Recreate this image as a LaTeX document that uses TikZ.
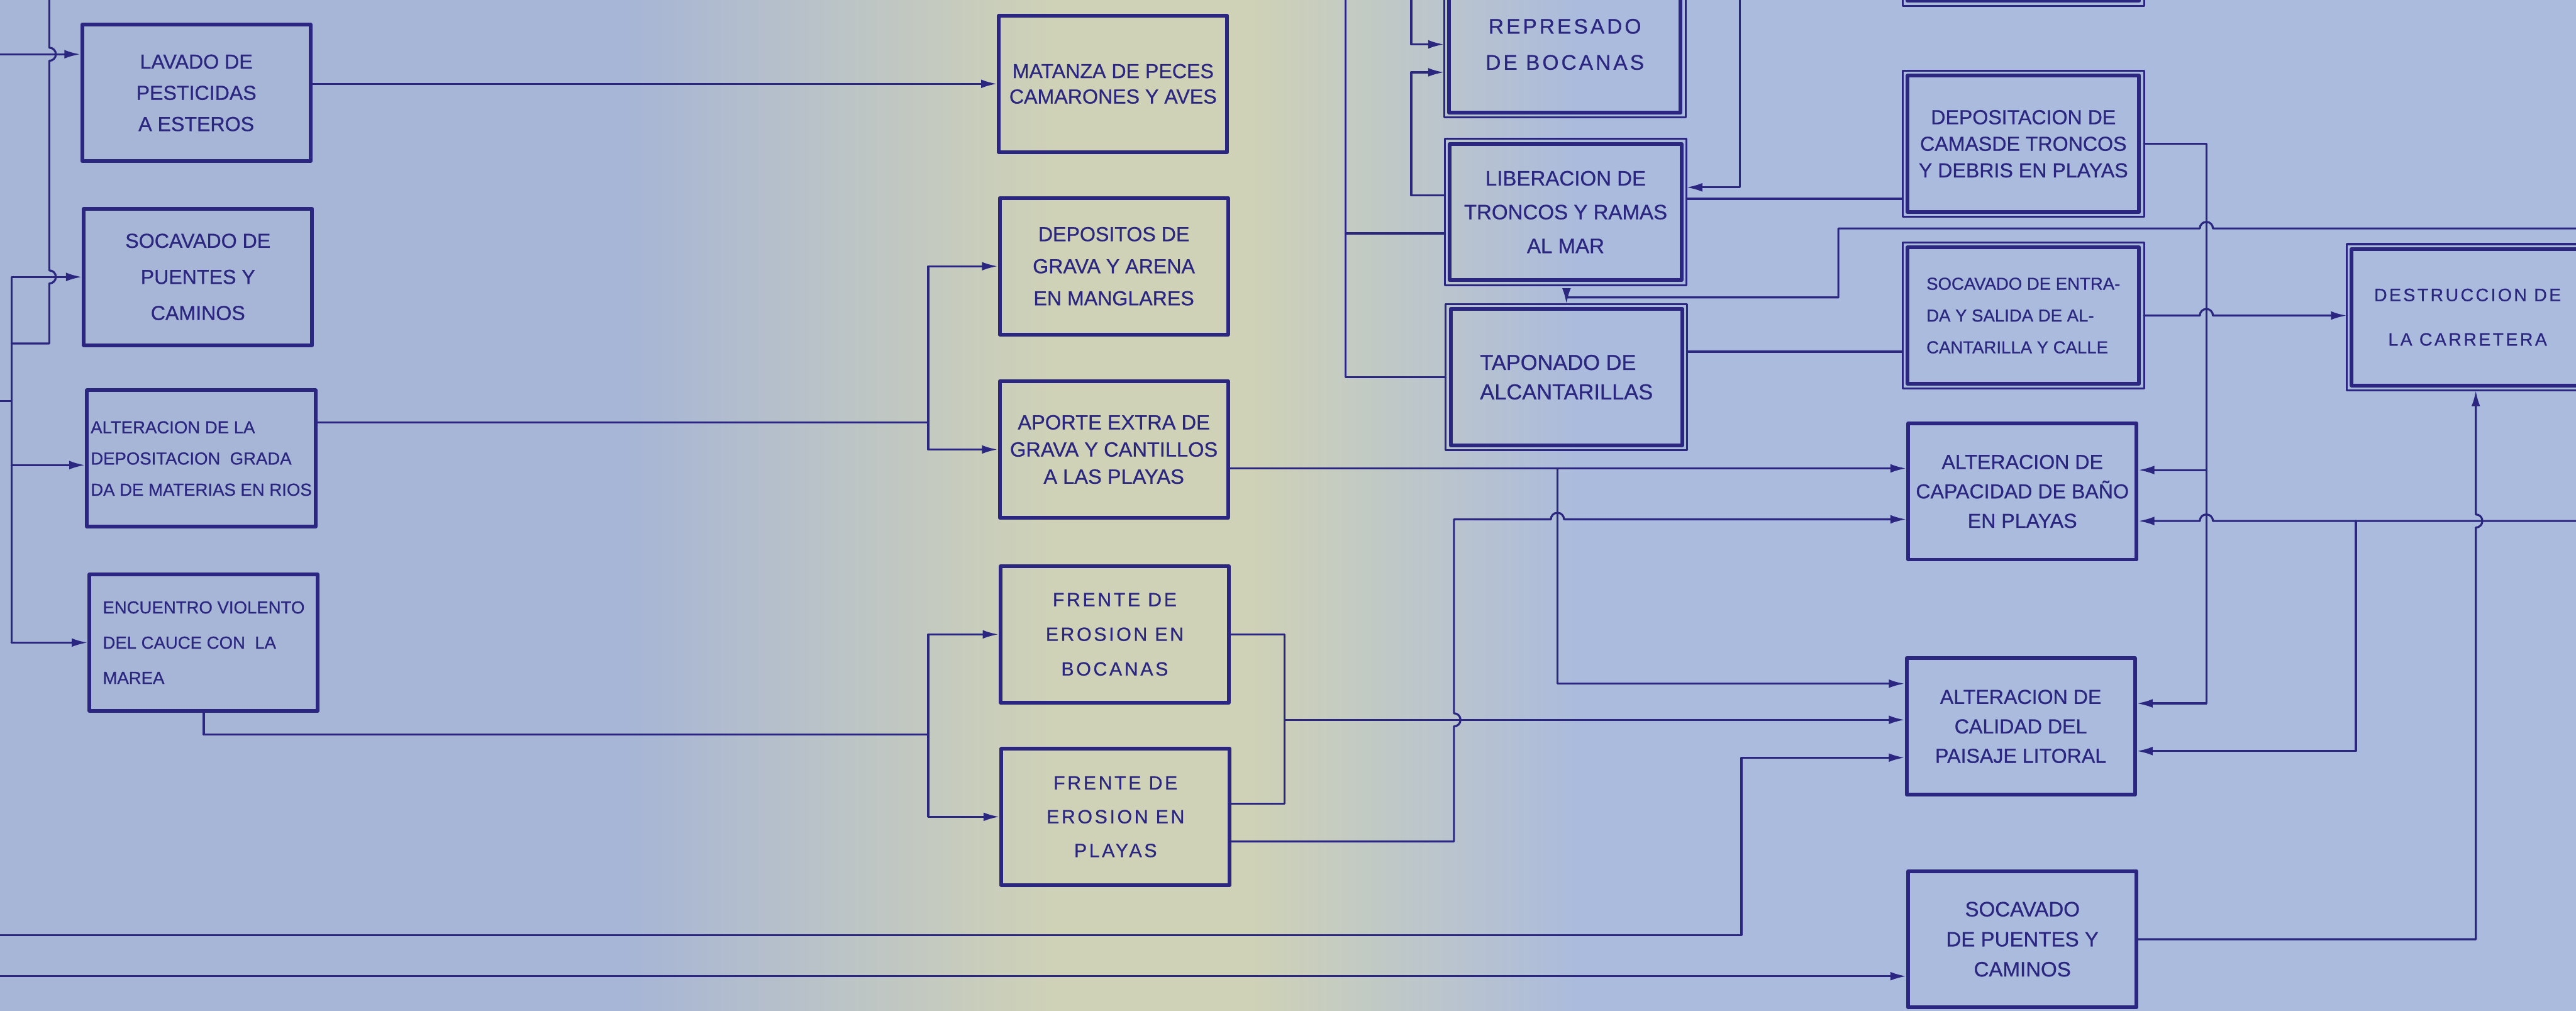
\documentclass[tikz,border=0pt]{standalone}
\usepackage{fontspec}
\newfontfamily\letra[FakeBold=.7]{Liberation Sans}
\newfontfamily\letraancha[LetterSpace=12,FakeBold=.7]{Liberation Sans}
\usetikzlibrary{arrows.meta}

\begin{document}
\begin{tikzpicture}[x=.2mm,y=-.2mm,line join=round,line cap=round,
    letra/.style 2 args={font=\letra\fontsize{#1}{#2}\selectfont},
    ancha/.style 2 args={font=\letraancha\fontsize{#1}{#2}\selectfont},
    caja/.style={draw=tinta,line width=1.3pt,minimum width=2.78cm,minimum height=1.66cm,
      inner sep=0pt,align=center,text=tinta,letra={7}{10.8}},
    cajadoble/.style={caja,minimum width=2.82cm,outer sep=.6mm},
    linea/.style={draw=tinta,line width=.7pt},
    flecha/.style={linea,-{Latex[length=5.5pt,width=3pt]}}]
  \definecolor{fondoAzul}{HTML}{A7B5D6}
  \definecolor{fondoClaro}{HTML}{ABBBDD}
  \definecolor{fondoAmarillo}{HTML}{CFD2B6}
  \definecolor{tinta}{HTML}{2B2680}
  \useasboundingbox (0,0) rectangle (1568,615);
  \clip (0,0) rectangle (1568,615);

  % Papel: azul a los lados, amarillento en el pliegue central.
  \fill[fondoAzul] (0,0) rectangle (381,615);
  \shade[left color=fondoAzul,right color=fondoAmarillo] (380,0) rectangle (641,615);
  \fill[fondoAmarillo] (640,0) rectangle (761,615);
  \shade[left color=fondoAmarillo,right color=fondoClaro] (760,0) rectangle (961,615);
  \fill[fondoClaro] (960,0) rectangle (1568,615);

  % Primera columna.
  \node[caja] (lavado) at (119.5,56.5) {LAVADO DE\\PESTICIDAS\\A ESTEROS};
  \node[caja,letra={7}{12.5}] (socavado) at (120.5,168.5) {SOCAVADO DE\\PUENTES Y\\CAMINOS};
  \node[caja,letra={6}{10.8},align=left] (alteracion) at (122.5,279)
    {ALTERACION DE LA\\DEPOSITACION\ \ GRADA\\DA DE MATERIAS EN RIOS};
  \node[caja,letra={6}{12.2},align=left] (encuentro) at (124,391)
    {ENCUENTRO VIOLENTO\\DEL CAUCE CON\ \ LA\\MAREA};

  % Segunda columna.
  \node[caja,letra={7}{8.8}] (matanza) at (677.5,51) {MATANZA DE PECES\\CAMARONES Y AVES};
  \node[caja,letra={7}{11.1}] (depositos) at (678,162) {DEPOSITOS DE\\GRAVA Y ARENA\\EN MANGLARES};
  \node[caja,letra={7.1}{9.4}] (aporte) at (678,273.5) {APORTE EXTRA DE\\GRAVA Y CANTILLOS\\A LAS PLAYAS};
  \node[caja,ancha={6.6}{12}] (frenteboc) at (678.5,386) {FRENTE DE\\EROSION EN\\BOCANAS};
  \node[caja,ancha={6.6}{11.7}] (frentepla) at (679,497) {FRENTE DE\\EROSION EN\\PLAYAS};

  % Tercera columna, cajas dobles.
  \node[cajadoble,ancha={7.3}{12.5}] (represado) at (952.5,27) {REPRESADO\\DE BOCANAS};
  \node[cajadoble,letra={7.2}{11.7}] (liberacion) at (953,129) {LIBERACION DE\\TRONCOS Y RAMAS\\AL MAR};
  \node[cajadoble,letra={7.5}{10.2},align=left] (taponado) at (953.5,229.5) {TAPONADO DE\\ALCANTARILLAS};

  % Cuarta columna.
  \node[cajadoble] (cortada) at (1231.6,-41) {};
  \node[cajadoble,letra={7}{9.2}] (depositacion) at (1231.6,87.5)
    {DEPOSITACION DE\\CAMASDE TRONCOS\\Y DEBRIS EN PLAYAS};
  \node[cajadoble,letra={6}{11},align=left] (socaventrada) at (1231.6,192)
    {SOCAVADO DE ENTRA-\\DA Y SALIDA DE AL-\\CANTARILLA Y CALLE};
  \node[caja,letra={7}{10.2}] (bano) at (1231,299) {ALTERACION DE\\CAPACIDAD DE BAÑO\\EN PLAYAS};
  \node[caja,letra={7}{10.2}] (calidad) at (1230,442) {ALTERACION DE\\CALIDAD DEL\\PAISAJE LITORAL};
  \node[caja,letra={7.2}{10.4}] (socavado2) at (1231,571.5) {SOCAVADO\\DE PUENTES Y\\CAMINOS};
  \node[cajadoble,ancha={6.2}{15.4}] (destruccion) at (1502,193) {DESTRUCCION DE\\LA CARRETERA};

  \foreach \nombre in {represado,liberacion,taponado,cortada,depositacion,socaventrada,destruccion}
    \draw[linea] (\nombre.north west) rectangle (\nombre.south east);

  % Extremos sueltos en los bordes del papel.
  \coordinate (izqA) at (0,33);
  \coordinate (izqB) at (0,244);
  \coordinate (izqC) at (0,569);
  \coordinate (izqD) at (0,594);
  \coordinate (arribaA) at (30,0);
  \coordinate (arribaB) at (819,0);
  \coordinate (arribaC) at (859,0);
  \coordinate (arribaD) at (1059,0);
  \coordinate (derA) at (1568,139);
  \coordinate (derB) at (1568,317);

  % Entradas de la primera columna.
  \draw[flecha] (izqA) -- (lavado.west |- izqA);
  \draw[linea] (arribaA) -- (30,29) arc[start angle=-90,end angle=90,radius=4]
    -- (30,164.5) arc[start angle=-90,end angle=90,radius=4] -- (30,209) -- (7,209);
  \draw[flecha] (encuentro.west -| 7,0) |- (socavado.west);
  \draw[flecha] (encuentro.west -| 7,0) -- (encuentro.west);
  \draw[linea] (izqB) -- (7,244);
  \draw[flecha] (7,283) -- (alteracion.west |- 0,283);

  % Hacia la segunda columna.
  \draw[flecha] (lavado.east |- matanza.west) -- (matanza.west);
  \draw[linea] (alteracion.east |- 0,257) -- (565,257);
  \draw[flecha] (565,257) |- (depositos.west);
  \draw[flecha] (565,257) |- (aporte.west);
  \draw[linea] (encuentro.south) |- (565,447);
  \draw[flecha] (565,447) |- (frenteboc.west);
  \draw[flecha] (565,447) |- (frentepla.west);

  % Lazo entre los dos frentes de erosion y sus salidas.
  \draw[linea] (frenteboc.east) -| (782,489) -- (frentepla.east |- 0,489);
  \draw[flecha] (782,438) -- (calidad.west |- 0,438);
  \draw[flecha] (frentepla.east |- 0,512) -- (885,512) -- (885,442)
    arc[start angle=90,end angle=-90,radius=4] -- (885,316) -- (944,316)
    arc[start angle=180,end angle=360,radius=4] -- (bano.west |- 0,316);
  \draw[flecha] (aporte.east |- 0,285) -- (bano.west |- 0,285);
  \draw[flecha] (948,285) |- (calidad.west |- 0,416);

  % Tercera columna.
  \draw[linea] (arribaB) |- (taponado.west);
  \draw[linea] (819,142) -- (liberacion.west |- 0,142);
  \draw[flecha] (arribaC) |- (represado.west);
  \draw[flecha] (liberacion.west |- 0,119) -| (859,44) -- (represado.west |- 0,44);
  \draw[flecha] (arribaD) |- (liberacion.east |- 0,114);
  \draw[linea] (liberacion.east |- 0,121) -- (depositacion.west |- 0,121);
  \draw[linea] (taponado.east |- 0,214) -- (socaventrada.west |- 0,214);
  \draw[flecha] (derA) -- (1347,139) arc[start angle=0,end angle=-180,radius=4]
    -- (1119,139) -- (1119,181) -| (taponado.north);

  % Cuarta columna y carretera.
  \draw[flecha] (socaventrada.east) -- (1339,192) arc[start angle=180,end angle=360,radius=4]
    -- (destruccion.west |- 0,192);
  \draw[flecha] (depositacion.east) -| (1343,428) -- (calidad.east |- 0,428);
  \draw[flecha] (1343,286) -- (bano.east |- 0,286);
  \draw[flecha] (derB) -- (1347,317) arc[start angle=0,end angle=-180,radius=4]
    -- (bano.east |- 0,317);
  \draw[flecha] (1434,317) |- (calidad.east |- 0,457);
  \draw[flecha] (socavado2.east) -| (1507,321) arc[start angle=90,end angle=-90,radius=4]
    -- (destruccion.south -| 1507,0);
  \draw[flecha] (izqC) -| (1060,461) -- (calidad.west |- 0,461);
  \draw[flecha] (izqD) -- (socavado2.west |- izqD);
\end{tikzpicture}
\end{document}
